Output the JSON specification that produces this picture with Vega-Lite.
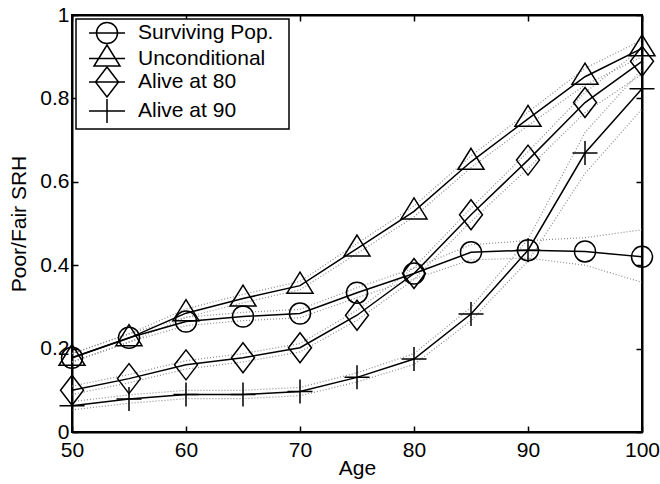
{
  "$schema": "https://vega.github.io/schema/vega-lite/v6.json",
  "width": 570,
  "height": 417,
  "autosize": "none",
  "padding": {"left": 72, "top": 15, "right": 18, "bottom": 52},
  "background": "white",
  "config": {
    "font": "Liberation Sans",
    "view": {"stroke": "black", "strokeWidth": 2},
    "axis": {
      "domainColor": "black",
      "domainWidth": 2,
      "tickColor": "black",
      "tickWidth": 1.5,
      "tickSize": -6,
      "labelFont": "Liberation Sans",
      "labelFontSize": 21,
      "labelColor": "black",
      "titleFont": "Liberation Sans",
      "titleFontSize": 21,
      "titleFontWeight": "normal",
      "titleColor": "black",
      "grid": false
    },
    "legend": {"strokeWidth": 1.5}
  },
  "datasets": {
    "srh": [
      {"series": "Surviving Pop.", "age": 50, "srh": 0.178, "lo": 0.168, "hi": 0.188},
      {"series": "Surviving Pop.", "age": 55, "srh": 0.226, "lo": 0.216, "hi": 0.236},
      {"series": "Surviving Pop.", "age": 60, "srh": 0.265, "lo": 0.255, "hi": 0.275},
      {"series": "Surviving Pop.", "age": 65, "srh": 0.277, "lo": 0.267, "hi": 0.287},
      {"series": "Surviving Pop.", "age": 70, "srh": 0.284, "lo": 0.274, "hi": 0.294},
      {"series": "Surviving Pop.", "age": 75, "srh": 0.334, "lo": 0.322, "hi": 0.346},
      {"series": "Surviving Pop.", "age": 80, "srh": 0.380, "lo": 0.367, "hi": 0.393},
      {"series": "Surviving Pop.", "age": 85, "srh": 0.431, "lo": 0.413, "hi": 0.449},
      {"series": "Surviving Pop.", "age": 90, "srh": 0.436, "lo": 0.417, "hi": 0.459},
      {"series": "Surviving Pop.", "age": 95, "srh": 0.433, "lo": 0.400, "hi": 0.466},
      {"series": "Surviving Pop.", "age": 100, "srh": 0.420, "lo": 0.359, "hi": 0.485},

      {"series": "Unconditional", "age": 50, "srh": 0.178, "lo": 0.168, "hi": 0.188},
      {"series": "Unconditional", "age": 55, "srh": 0.225, "lo": 0.215, "hi": 0.235},
      {"series": "Unconditional", "age": 60, "srh": 0.285, "lo": 0.275, "hi": 0.295},
      {"series": "Unconditional", "age": 65, "srh": 0.320, "lo": 0.310, "hi": 0.330},
      {"series": "Unconditional", "age": 70, "srh": 0.351, "lo": 0.341, "hi": 0.361},
      {"series": "Unconditional", "age": 75, "srh": 0.440, "lo": 0.428, "hi": 0.452},
      {"series": "Unconditional", "age": 80, "srh": 0.529, "lo": 0.516, "hi": 0.542},
      {"series": "Unconditional", "age": 85, "srh": 0.648, "lo": 0.634, "hi": 0.662},
      {"series": "Unconditional", "age": 90, "srh": 0.751, "lo": 0.735, "hi": 0.767},
      {"series": "Unconditional", "age": 95, "srh": 0.852, "lo": 0.832, "hi": 0.872},
      {"series": "Unconditional", "age": 100, "srh": 0.920, "lo": 0.900, "hi": 0.940},

      {"series": "Alive at 80", "age": 50, "srh": 0.100, "lo": 0.090, "hi": 0.110},
      {"series": "Alive at 80", "age": 55, "srh": 0.128, "lo": 0.118, "hi": 0.138},
      {"series": "Alive at 80", "age": 60, "srh": 0.161, "lo": 0.151, "hi": 0.171},
      {"series": "Alive at 80", "age": 65, "srh": 0.178, "lo": 0.168, "hi": 0.188},
      {"series": "Alive at 80", "age": 70, "srh": 0.202, "lo": 0.192, "hi": 0.212},
      {"series": "Alive at 80", "age": 75, "srh": 0.280, "lo": 0.268, "hi": 0.292},
      {"series": "Alive at 80", "age": 80, "srh": 0.380, "lo": 0.366, "hi": 0.394},
      {"series": "Alive at 80", "age": 85, "srh": 0.521, "lo": 0.505, "hi": 0.537},
      {"series": "Alive at 80", "age": 90, "srh": 0.652, "lo": 0.632, "hi": 0.672},
      {"series": "Alive at 80", "age": 95, "srh": 0.790, "lo": 0.766, "hi": 0.814},
      {"series": "Alive at 80", "age": 100, "srh": 0.889, "lo": 0.858, "hi": 0.920},

      {"series": "Alive at 90", "age": 50, "srh": 0.063, "lo": 0.053, "hi": 0.073},
      {"series": "Alive at 90", "age": 55, "srh": 0.079, "lo": 0.069, "hi": 0.089},
      {"series": "Alive at 90", "age": 60, "srh": 0.090, "lo": 0.080, "hi": 0.100},
      {"series": "Alive at 90", "age": 65, "srh": 0.090, "lo": 0.080, "hi": 0.100},
      {"series": "Alive at 90", "age": 70, "srh": 0.097, "lo": 0.087, "hi": 0.107},
      {"series": "Alive at 90", "age": 75, "srh": 0.131, "lo": 0.120, "hi": 0.142},
      {"series": "Alive at 90", "age": 80, "srh": 0.175, "lo": 0.162, "hi": 0.188},
      {"series": "Alive at 90", "age": 85, "srh": 0.283, "lo": 0.267, "hi": 0.299},
      {"series": "Alive at 90", "age": 90, "srh": 0.436, "lo": 0.410, "hi": 0.462},
      {"series": "Alive at 90", "age": 95, "srh": 0.669, "lo": 0.620, "hi": 0.718},
      {"series": "Alive at 90", "age": 100, "srh": 0.823, "lo": 0.775, "hi": 0.870}
    ]
  },
  "data": {"name": "srh"},
  "resolve": {
    "axis": {"x": "independent", "y": "independent"},
    "scale": {"shape": "independent"},
    "legend": {"shape": "independent"}
  },
  "layer": [
    {
      "description": "lower confidence bound, dotted; carries the bottom and left axes",
      "mark": {"type": "line", "color": "#8c8c8c", "strokeWidth": 1.2, "strokeDash": [1, 2]},
      "encoding": {
        "x": {
          "field": "age", "type": "quantitative",
          "scale": {"domain": [50, 100], "nice": false, "zero": false},
          "axis": {"orient": "bottom", "title": "Age", "values": [50, 60, 70, 80, 90, 100], "labelPadding": 13, "titlePadding": -3, "labelFlush": false}
        },
        "y": {
          "field": "lo", "type": "quantitative",
          "scale": {"domain": [0, 1], "nice": false, "zero": false},
          "axis": {"orient": "left", "title": "Poor/Fair SRH", "values": [0, 0.2, 0.4, 0.6, 0.8, 1], "format": "~g", "labelPadding": 9, "titlePadding": 10, "labelFlush": false}
        },
        "detail": {"field": "series"}
      }
    },
    {
      "description": "upper confidence bound, dotted; carries the top and right tick marks",
      "mark": {"type": "line", "color": "#8c8c8c", "strokeWidth": 1.2, "strokeDash": [1, 2]},
      "encoding": {
        "x": {
          "field": "age", "type": "quantitative",
          "axis": {"orient": "top", "title": null, "labels": false, "values": [50, 60, 70, 80, 90, 100]}
        },
        "y": {
          "field": "hi", "type": "quantitative",
          "axis": {"orient": "right", "title": null, "labels": false, "values": [0, 0.2, 0.4, 0.6, 0.8, 1]}
        },
        "detail": {"field": "series"}
      }
    },
    {
      "description": "estimated share per series",
      "mark": {"type": "line", "color": "black", "strokeWidth": 1.5},
      "encoding": {
        "x": {"field": "age", "type": "quantitative", "axis": null},
        "y": {"field": "srh", "type": "quantitative", "axis": null},
        "detail": {"field": "series"}
      }
    },
    {
      "description": "hollow markers at each age",
      "mark": {"type": "point", "filled": false, "stroke": "black", "strokeWidth": 1.5, "size": 400, "opacity": 1},
      "encoding": {
        "x": {"field": "age", "type": "quantitative", "axis": null},
        "y": {"field": "srh", "type": "quantitative", "axis": null},
        "shape": {
          "field": "series", "type": "nominal", "legend": null,
          "scale": {
            "domain": ["Surviving Pop.", "Unconditional", "Alive at 80", "Alive at 90"],
            "range": [
              "M1.05,0A1.05,1.05,0,1,1,-1.05,0A1.05,1.05,0,1,1,1.05,0Z",
              "M0,-1.35L1.3,0.75L-1.3,0.75Z",
              "M0,-1.5L1.15,0L0,1.5L-1.15,0Z",
              "M-1.25,0H1.25M0,-1.2V1.2"
            ]
          }
        }
      }
    },
    {
      "description": "legend only: line-through-marker keys, no rows drawn",
      "transform": [{"filter": "datum.age > 1000"}],
      "mark": {"type": "point", "filled": false, "stroke": "black", "strokeWidth": 1.5, "size": 400},
      "encoding": {
        "x": {"field": "age", "type": "quantitative", "axis": null},
        "y": {"field": "srh", "type": "quantitative", "axis": null},
        "shape": {
          "field": "series", "type": "nominal",
          "scale": {
            "domain": ["Surviving Pop.", "Unconditional", "Alive at 80", "Alive at 90"],
            "range": [
              "M-1.8,0H1.8M1.05,0A1.05,1.05,0,1,1,-1.05,0A1.05,1.05,0,1,1,1.05,0Z",
              "M-1.8,0H1.8M0,-1.35L1.3,0.75L-1.3,0.75Z",
              "M-1.8,0H1.8M0,-1.5L1.15,0L0,1.5L-1.15,0Z",
              "M-1.8,0H1.8M0,-1.2V1.2"
            ]
          },
          "legend": {
            "title": null,
            "orient": "top-left",
            "offset": 4,
            "padding": 3,
            "strokeColor": "black",
            "fillColor": "white",
            "labelFont": "Liberation Sans",
            "labelFontSize": 21,
            "labelColor": "black",
            "labelExpr": "datum.label + '\u00a0\u00a0\u200b'",
            "symbolSize": 400,
            "symbolStrokeWidth": 1.5,
            "symbolStrokeColor": "black",
            "symbolFillColor": "transparent",
            "symbolOpacity": 1,
            "symbolOffset": 17,
            "labelOffset": 20,
            "rowPadding": -5.5
          }
        }
      }
    }
  ]
}
